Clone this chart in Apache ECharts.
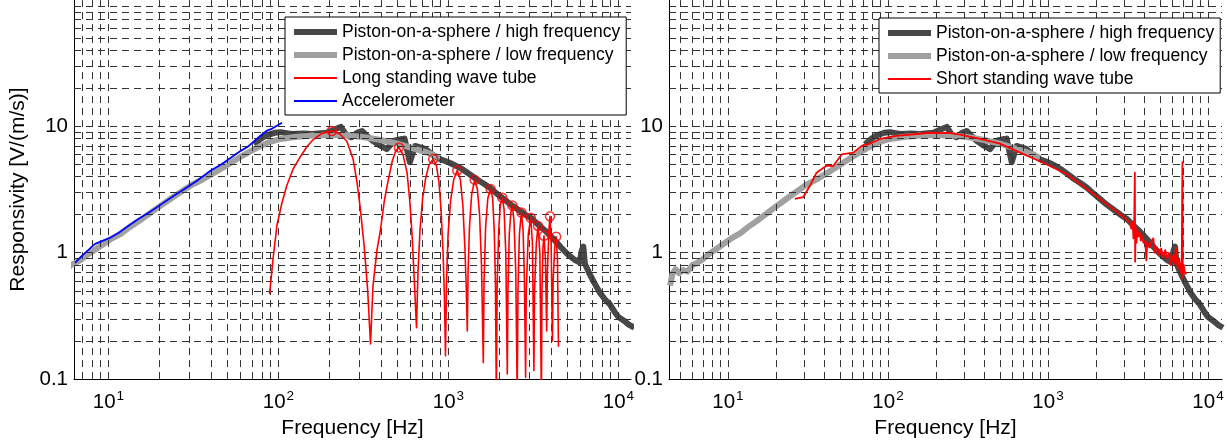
<!DOCTYPE html>
<html><head><meta charset="utf-8">
<script src="https://cdn.jsdelivr.net/npm/echarts@6/dist/echarts.min.js"></script>
<style>html,body{margin:0;padding:0;background:#fff}#c{width:1227px;height:444px}</style>
</head><body><div id="c"></div>
<script>
// ---- data: [frequency Hz, responsivity V/(m/s)] ----
const highFreq = [[71.8,7.2],[78,7.9],[85,8.5],[95,8.9],[103,9.0],[119,8.7],[140,8.8],[158,8.7],[192,8.9],[215,9.5],[233,9.9],[250,8.6],[268,8.2],[290,8.9],[310,9.2],[335,8.3],[358,7.7],[400,7.0],[434,6.6],[478,7.7],[520,7.9],[552,8.0],[593,5.2],[637,7.0],[690,6.8],[736,6.6],[800,6.0],[891,5.5],[1000,5.2],[1100,4.9],[1200,4.6],[1308,4.25],[1450,3.85],[1600,3.55],[1745,3.28],[1900,2.98],[2100,2.68],[2330,2.4],[2600,2.17],[2850,1.99],[3100,1.86],[3400,1.65],[3700,1.5],[4140,1.29],[4600,1.1],[5000,0.98],[5520,0.88],[5900,0.84],[6100,1.05],[6220,1.12],[6350,0.82],[6700,0.7],[7200,0.58],[7800,0.48],[8300,0.43],[8910,0.39],[9500,0.34],[10000,0.31],[10790,0.29],[11500,0.27],[12400,0.255]];
const lowFreq = [[4.34,0.55],[4.5,0.68],[4.7,0.74],[4.95,0.69],[5.25,0.73],[5.6,0.71],[6.0,0.8],[6.4,0.83],[6.9,0.88],[7.4,0.95],[8.0,1.02],[8.9,1.12],[9.6,1.2],[10.5,1.3],[11.9,1.42],[13.2,1.58],[15.1,1.78],[17.5,2.05],[20.2,2.35],[23,2.65],[26.9,3.05],[31,3.45],[35.8,3.8],[42,4.3],[50,4.95],[60,5.75],[73.6,6.7],[88,7.5],[103,7.95],[125,8.25],[160,8.45],[211,8.55],[250,8.5],[320,8.2],[400,7.8],[501,7.3],[620,6.7],[720,6.3],[806,6.0],[891,5.6]];
const longTube = [[88.7,0.47],[93,0.9],[98,1.65],[105,2.5],[112,3.4],[122,4.6],[134,5.7],[148,7.0],[161,7.9],[180,8.8],[206,9.2],[230,8.7],[253,7.6],[275,5.5],[290,3.6],[303,2.24],[320,1.1],[335,0.5],[348,0.19],
 [360,0.55],[380,1.05],[398,1.5],[420,2.6],[436,3.4],[467,5.3],[490,6.4],[511,6.8],[540,6.0],[571,4.3],[592,2.6],[611,1.4],[630,0.6],[649,0.255],
 [662,0.7],[680,1.5],[705,2.7],[735,3.9],[770,5.0],[813,5.5],[850,4.9],[880,3.6],[905,2.2],[930,1.0],[947,0.45],[961,0.153],
 [975,0.6],[995,1.4],[1030,2.6],[1075,3.8],[1127,4.47],[1175,3.8],[1215,2.4],[1250,1.1],[1272,0.55],[1291,0.24],
 [1305,0.7],[1330,1.6],[1370,2.9],[1427,3.77],[1480,3.2],[1525,2.0],[1565,0.8],[1604,0.135],
 [1620,0.6],[1655,1.6],[1705,2.7],[1770,3.2],[1820,2.7],[1860,1.5],[1890,0.6],[1914,0.07],
 [1935,0.55],[1975,1.5],[2020,2.4],[2075,2.72],[2125,2.2],[2175,1.0],[2220,0.11],
 [2240,0.5],[2280,1.4],[2330,2.1],[2378,2.37],[2430,1.8],[2490,0.7],[2540,0.07],
 [2565,0.5],[2615,1.4],[2687,2.08],[2750,1.5],[2800,0.6],[2845,0.103],
 [2870,0.5],[2950,1.4],[3048,1.89],[3120,1.2],[3183,0.117],
 [3210,0.5],[3290,1.2],[3366,1.63],[3450,1.0],[3523,0.07],
 [3550,0.5],[3600,1.1],[3650,1.36],[3720,0.9],[3785,0.24],
 [3820,0.7],[3900,1.5],[3960,1.94],[4020,1.2],[4090,0.2],
 [4130,0.6],[4220,1.1],[4300,1.34],[4380,0.9],[4440,0.18]];
const longTubePeaks = [[206,9.2],[511,6.8],[813,5.52],[1127,4.47],[1427,3.77],[1770,3.2],[2075,2.72],[2378,2.37],[2687,2.08],[3048,1.89],[3366,1.63],[3650,1.36],[3960,1.94],[4300,1.34]];
const accel = [[6.36,0.83],[6.9,0.93],[7.6,1.05],[8.3,1.17],[9.2,1.24],[10.2,1.31],[11.5,1.44],[13,1.62],[15,1.85],[17.5,2.1],[20,2.37],[24,2.8],[28,3.2],[33,3.7],[40,4.47],[46,5.0],[53,5.7],[60,6.4],[66,6.9],[71,7.5],[78,8.4],[85,9.2],[92,9.6],[99,10.2],[105,10.7]];
const shortTube = [[26.2,2.67],[29.5,2.75],[32.6,3.4],[35.8,4.3],[41.4,4.9],[45.5,4.85],[51.3,6.0],[60.7,6.2],[68.5,7.0],[77.2,7.3],[89,7.95],[113,8.4],[151,8.7],[183,8.9],[211,8.85],[240,8.9],[282,8.6],[376,7.95],[501,7.3],[668,6.2],[891,5.3],[1308,4.2],[1918,2.93],[2560,2.22],[3150,1.8],[3250,1.72],[3320,1.55],[3380,1.75],[3420,1.3],[3460,1.9],[3490,4.3],[3505,0.85],[3530,1.6],[3570,1.2],[3620,1.5],[3680,1.35],[3740,1.45],[3800,1.25],[3860,1.35],[3950,1.2],[4050,1.25],[4120,0.87],[4170,1.2],[4300,1.1],[4450,1.25],[4550,1.3],[4650,1.0],[4800,1.1],[4950,0.95],[5100,1.08],[5250,0.92],[5400,1.05],[5550,0.9],[5700,1.0],[5850,0.8],[6000,0.95],[6150,0.82],[6300,1.1],[6450,0.75],[6600,0.9],[6750,0.7],[6850,0.85],[6920,5.2],[6960,0.63],[7050,0.8],[7200,0.68],[7360,0.7]];
const xTickValues = [10, 100, 1000, 10000];
const yTickLabels = ['0.1', '1', '10'];

const FONT = "'Liberation Sans', Arial, Helvetica, sans-serif";
const NAMES = ['Piston-on-a-sphere / high frequency','Piston-on-a-sphere / low frequency','Long standing wave tube','Accelerometer','Short standing wave tube'];

function gridValues(min, max) {
  const out = [];
  for (let e = -2; e <= 5; e++) for (let m = 1; m <= 9; m++) {
    const v = +(m * Math.pow(10, e)).toPrecision(6);
    if (v > min * 1.001 && v < max * 0.999) out.push(v);
  }
  return out;
}
function isTick(v, list) { return list.some(t => Math.abs(v / t - 1) < 1e-6); }
const xLabel = v => {
  if (!isTick(v, xTickValues)) return '';
  return '{b|10}{e|' + Math.round(Math.log10(v)) + '}';
};
const yLabel = v => {
  const s = yTickLabels.find(t => Math.abs(v / parseFloat(t) - 1) < 1e-6);
  return s || '';
};
const xRich = {
  b: {fontSize: 20.5, fontFamily: FONT, color: '#000', lineHeight: 27},
  e: {fontSize: 13.5, fontFamily: FONT, color: '#000', lineHeight: 12, verticalAlign: 'top', padding: [0, 0, 0, 1]}
};

const panels = [
  {left: 74, width: 557, xmin: 6.27, xmax: 11860},
  {left: 669, width: 553, xmin: 4.28, xmax: 12230}
];
const YMIN = 0.1, YMAX = 100;

const grid = panels.map(p => ({left: p.left, top: 0, width: p.width, height: 382}));
const xAxis = panels.map((p, i) => ({
  type: 'log', logBase: 10, gridIndex: i, min: p.xmin, max: p.xmax,
  axisLine: {show: true, onZero: false, lineStyle: {color: '#000', width: 1}},
  axisTick: {show: false}, splitLine: {show: false},
  axisLabel: {formatter: xLabel, rich: xRich, margin: 10, showMinLabel: true, showMaxLabel: true},
  name: 'Frequency [Hz]', nameLocation: 'middle', nameGap: 37,
  nameTextStyle: {fontSize: 21, fontFamily: FONT, color: '#000'}
}));
const yAxis = panels.map((p, i) => ({
  type: 'log', logBase: 10, gridIndex: i, min: YMIN, max: YMAX,
  axisLine: {show: true, onZero: false, lineStyle: {color: '#000', width: 1}},
  axisTick: {show: false}, splitLine: {show: false},
  axisLabel: {formatter: yLabel, fontSize: 20.5, fontFamily: FONT, color: '#000', margin: 6},
  name: i === 0 ? 'Responsivity [V/(m/s)]' : '', nameLocation: 'middle', nameGap: 45, nameRotate: 90,
  nameTextStyle: {fontSize: 21, fontFamily: FONT, color: '#000'}
}));

const gridLineStyle = {type: [7, 5], color: '#333', width: 1};
const gridSeries = panels.map((p, i) => ({
  type: 'line', xAxisIndex: i, yAxisIndex: i, data: [], z: 1, silent: true,
  markLine: {
    silent: true, symbol: ['none', 'none'], label: {show: false}, animation: false,
    lineStyle: gridLineStyle, emphasis: {disabled: true},
    data: gridValues(p.xmin, p.xmax).map(v => ({xAxis: v}))
      .concat(gridValues(YMIN, YMAX).map(v => ({yAxis: v})))
  }
}));

const COLORS = {hi: '#484848', lo: '#a0a0a0', red: '#ff0000', blue: '#0000ff'};
function lineSeries(name, data, i, color, width, z) {
  return {name, type: 'line', data, xAxisIndex: i, yAxisIndex: i, symbol: 'none', showSymbol: false,
    lineStyle: {color, width, join: 'round'}, itemStyle: {color}, z, silent: true, clip: true};
}

const series = gridSeries.concat([
  lineSeries(NAMES[0], highFreq, 0, COLORS.hi, 6, 3),
  lineSeries(NAMES[1], lowFreq, 0, COLORS.lo, 6, 4),
  lineSeries(NAMES[2], longTube, 0, COLORS.red, 1.6, 5),
  {type: 'scatter', data: longTubePeaks, xAxisIndex: 0, yAxisIndex: 0, symbol: 'circle', symbolSize: 9,
    itemStyle: {color: 'rgba(0,0,0,0)', borderColor: COLORS.red, borderWidth: 1.5}, z: 5, silent: true},
  lineSeries(NAMES[3], accel, 0, COLORS.blue, 1.8, 6),
  lineSeries(NAMES[0], highFreq, 1, COLORS.hi, 6, 3),
  lineSeries(NAMES[1], lowFreq, 1, COLORS.lo, 6, 4),
  lineSeries(NAMES[4], shortTube, 1, COLORS.red, 1.8, 5)
]);

const THICK = 'path://M0,0H43V6H0Z', THIN = 'path://M0,0H43V2H0Z';
const item = (name, icon, color) => ({name, icon, itemStyle: {color, borderWidth: 0}});
const legendBase = {
  orient: 'vertical', backgroundColor: '#fff', borderColor: '#000', borderWidth: 1,
  padding: [5, 6, 4, 9], itemWidth: 43, itemHeight: 12, itemGap: 3, selectedMode: false, z: 20,
  textStyle: {fontSize: 17.5, fontFamily: FONT, color: '#000', lineHeight: 20}
};
const legend = [
  Object.assign({}, legendBase, {left: 285, top: 17, data: [
    item(NAMES[0], THICK, COLORS.hi), item(NAMES[1], THICK, COLORS.lo),
    item(NAMES[2], THIN, COLORS.red), item(NAMES[3], THIN, COLORS.blue)]}),
  Object.assign({}, legendBase, {left: 879, top: 18, data: [
    item(NAMES[0], THICK, COLORS.hi), item(NAMES[1], THICK, COLORS.lo),
    item(NAMES[4], THIN, COLORS.red)]})
];

const chart = echarts.init(document.getElementById('c'), null, {renderer: 'canvas'});
chart.setOption({animation: false, backgroundColor: '#fff', textStyle: {fontFamily: FONT},
  grid, xAxis, yAxis, legend, series});
</script></body></html>
